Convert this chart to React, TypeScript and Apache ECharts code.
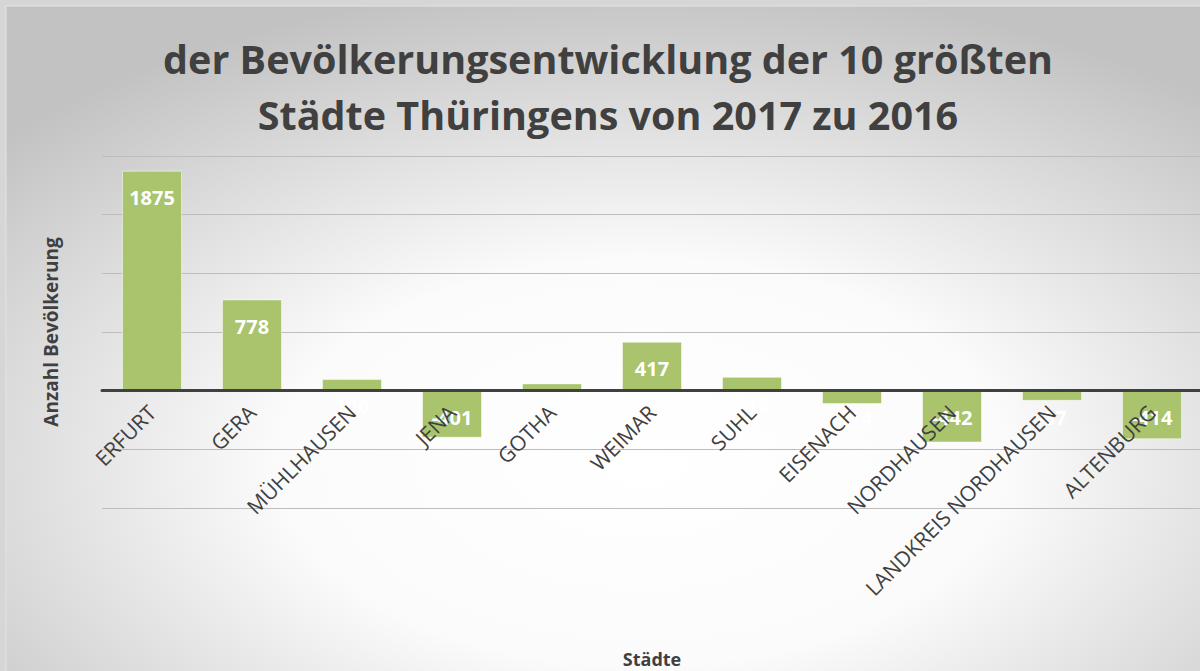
import React, { useEffect, useRef } from "react";
import * as echarts from "echarts";

const categories = [
  "ERFURT",
  "GERA",
  "MÜHLHAUSEN",
  "JENA",
  "GOTHA",
  "WEIMAR",
  "SUHL",
  "EISENACH",
  "NORDHAUSEN",
  "LANDKREIS NORDHAUSEN",
  "ALTENBURG",
];
const values = [1875, 778, 100, -401, 62, 417, 118, -114, -442, -87, -414];
const yMin = -1000;
const yMax = 2000;
const yInterval = 500;
const titleText = "der Bevölkerungsentwicklung der 10 größten\nStädte Thüringens von 2017 zu 2016";
const yAxisName = "Anzahl Bevölkerung";
const xAxisName = "Städte";

const FONT = "'Open Sans', Lato, sans-serif";
const DARK = "#404040";

const GRID_TOP = 156;
const GRID_BOTTOM = 163;
const HEIGHT = 671;

export default function App() {
  const ref = useRef<HTMLDivElement>(null);
  useEffect(() => {
    if (!ref.current) return;
    const chart = echarts.init(ref.current, null, { renderer: "svg" });
    const gridHeight = HEIGHT - GRID_TOP - GRID_BOTTOM;
    // place the category axis at the value axis' zero line
    const zeroOffset = -(gridHeight * (0 - yMin)) / (yMax - yMin);
    chart.setOption({
      animation: false,
      backgroundColor: "#d6d6d6",
      textStyle: { fontFamily: FONT },
      graphic: [
        {
          type: "rect",
          z: -10,
          silent: true,
          shape: { x: 6, y: 6, width: 1200, height: 671 },
          style: {
            fill: new echarts.graphic.RadialGradient(0.53, 0.68, 0.72, [
              { offset: 0, color: "#ffffff" },
              { offset: 0.42, color: "#fbfbfb" },
              { offset: 1, color: "#c2c2c2" },
            ]),
            stroke: "#e4e4e4",
            lineWidth: 1,
          },
        },
        {
          type: "text",
          x: 652,
          y: 659,
          style: {
            text: xAxisName,
            fill: DARK,
            font: `bold 18px ${FONT}`,
            align: "center",
            verticalAlign: "middle",
          },
        },
      ],
      title: {
        text: titleText,
        left: 603,
        top: 26,
        textAlign: "center",
        textStyle: {
          color: DARK,
          fontFamily: FONT,
          fontWeight: "bold",
          fontSize: 39.5,
          lineHeight: 56,
        },
      },
      grid: {
        left: 102,
        right: -2,
        top: GRID_TOP,
        bottom: GRID_BOTTOM,
        containLabel: false,
        outerBoundsMode: "none",
      },
      xAxis: {
        type: "category",
        data: categories,
        z: 5,
        position: "bottom",
        offset: zeroOffset,
        axisLine: { onZero: false, lineStyle: { color: DARK, width: 3 } },
        axisTick: { show: false },
        axisLabel: {
          interval: 0,
          rotate: 45,
          margin: 18,
          color: DARK,
          fontSize: 21,
          fontFamily: FONT,
        },
        splitLine: { show: false },
      },
      yAxis: {
        type: "value",
        min: yMin,
        max: yMax,
        interval: yInterval,
        name: yAxisName,
        nameLocation: "middle",
        nameGap: 42,
        nameTextStyle: { color: DARK, fontWeight: "bold", fontSize: 19, fontFamily: FONT },
        axisLine: { show: false },
        axisTick: { show: false },
        axisLabel: { show: false },
        splitLine: { lineStyle: { color: "#bdbdbd", width: 1 } },
      },
      series: [
        {
          type: "bar",
          data: values,
          barWidth: "60%",
          itemStyle: {
            color: "#a9c46c",
            borderColor: "rgba(255,255,255,0.5)",
            borderWidth: 1,
          },
          label: {
            show: true,
            position: "insideTop",
            distance: 17,
            color: "#ffffff",
            fontWeight: "bold",
            fontSize: 20,
            fontFamily: FONT,
          },
        },
      ],
    });
    return () => chart.dispose();
  }, []);
  return (
    <div
      ref={ref}
      style={{ position: "absolute", left: 0, top: 0, width: 1200, height: 671 }}
    />
  );
}
